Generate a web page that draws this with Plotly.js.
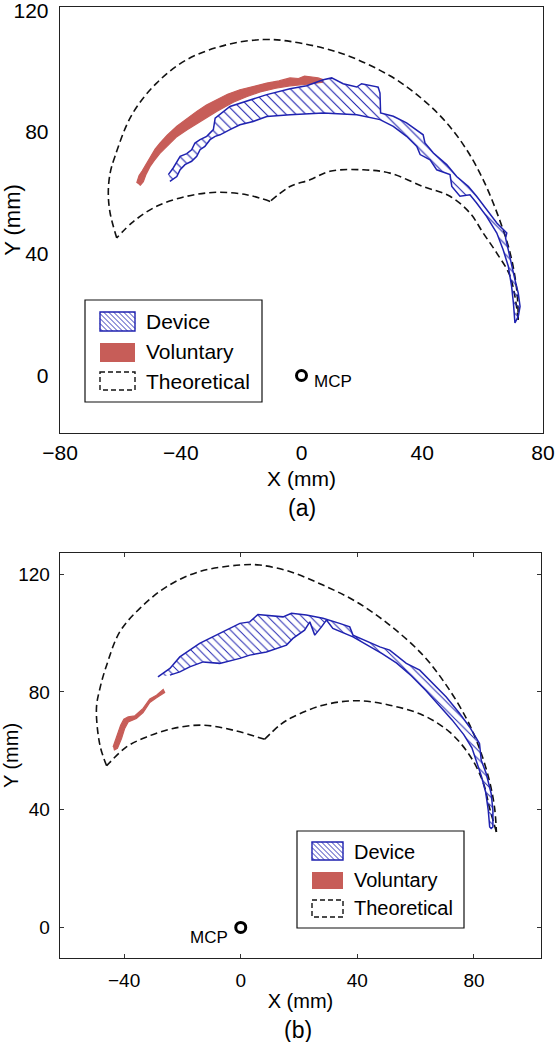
<!DOCTYPE html>
<html>
<head>
<meta charset="utf-8">
<script src="https://cdn.plot.ly/plotly-3.0.1.min.js"></script>
<style>
html,body{margin:0;padding:0;background:#fff;}
#chart{width:556px;height:1042px;}
</style>
</head>
<body>
<div id="chart"></div>
<script>
// ---------- names / ticks ----------
const seriesNames = ['Device', 'Voluntary', 'Theoretical'];
const xTicksA = [-80, -40, 0, 40, 80];
const yTicksA = [0, 40, 80, 120];
const xTicksB = [-40, 0, 40, 80];
const yTicksB = [0, 40, 80, 120];
const mcpX = [0];
const mcpY = [0];

// ---------- panel (a) ----------
const theoA_outer_x = [-61.2,-63.4,-64.0,-63.4,-61.8,-56.2,-48.0,-38.0,-24.8,-12.7,-3.8,12.8,29.3,40.3,48.1,54.7,60.2,65.2,69.1,71.3,71.8];
const theoA_outer_y = [45.2,53.4,60.0,66.5,72.0,85.7,96.1,103.8,108.7,110.4,109.8,106.0,98.5,90.6,83.0,74.2,64.3,52.3,40.3,28.2,18.3];
const theoA_innerR_x = [71.8,69.1,64.7,60.2,55.8,49.2,40.3,29.3,20.5,9.4,2.8,-3.8,-10.4];
const theoA_innerR_y = [18.3,32.6,40.2,46.8,53.4,58.9,62.1,66.5,67.6,67.1,64.3,62.1,57.2];
const theoA_innerL_x = [-10.4,-18.2,-28.1,-38.0,-48.0,-55.7,-61.2];
const theoA_innerL_y = [57.2,59.4,60.2,58.9,55.6,50.6,45.2];

const volA_x = [-54.6,-53.8,-52.8,-51.2,-50.0,-48.5,-46.9,-44.5,-41.3,-38.0,-34.7,-31.5,-28.1,-24.5,-20.4,-16.0,-11.5,-7.5,-3.8,-1.0,1.0,3.5,5.5,7.2,
                7.0,2.8,-3.8,-8.5,-13.7,-18.0,-22.6,-28.1,-31.5,-34.7,-38.0,-41.3,-44.2,-46.9,-48.8,-50.2,-51.5,-52.4,-53.5];
const volA_y = [63.3,65.7,67.2,70.0,72.2,74.4,76.4,79.0,81.9,84.5,86.8,88.9,90.6,92.4,93.9,95.0,96.1,96.8,97.8,97.6,98.4,98.1,97.8,97.2,
                96.4,95.8,95.2,94.4,93.2,91.7,89.8,86.8,84.8,82.8,80.7,78.5,75.8,73.0,70.6,68.6,66.1,63.7,62.4];

const devA_x = [-44.1,-42.5,-40.2,-38.0,-36.4,-35.3,-33.6,-31.4,-29.2,-28.6,-23.7,-17.1,-11.5,-3.8,1.7,7.2,10.0,13.8,18.3,19.9,25.4,26.0,26.2,
                30.4,34.8,40.3,40.9,43.7,48.1,51.4,55.3,58.0,61.3,64.7,68.0,67.6,68.5,69.6,70.7,71.8,72.4,71.8,70.7,
                70.2,69.6,68.5,66.8,64.7,61.3,58.0,55.8,52.5,49.8,49.2,44.8,42.6,39.3,38.2,34.8,30.4,26.0,
                18.3,7.2,-3.8,-11.5,-16.0,-20.4,-23.7,-27.0,
                -28.6,-30.3,-32.0,-33.6,-34.7,-36.4,-38.6,-40.2,-41.3,-43.6];
const devA_y = [66.0,68.2,72.0,72.9,74.2,76.4,77.5,78.6,80.8,84.6,88.4,90.6,92.3,94.2,95.2,97.2,97.8,95.9,94.8,95.9,94.8,92.8,86.3,
                85.2,83.0,79.1,76.4,73.1,69.3,65.4,62.1,58.9,54.5,50.1,46.8,45.2,41.3,35.9,31.5,27.1,22.7,19.4,17.3,
                23.8,29.3,35.9,41.3,46.8,52.3,56.7,59.4,58.9,62.1,66.0,67.6,70.9,72.6,75.3,78.6,81.9,84.1,
                85.7,86.3,85.7,85.1,83.5,82.4,80.8,79.1,
                78.6,77.5,75.3,74.2,72.0,70.4,69.3,67.6,65.4,63.8];

// ---------- panel (b) ----------
const theoB_outer_x = [-46.0,-48.3,-49.5,-48.3,-46.0,-41.5,-34.6,-25.5,-14.1,-0.3,6.5,16.8,28.2,39.7,51.1,62.5,70.5,77.4,81.9,85.4,87.1,87.7];
const theoB_outer_y = [54.9,61.9,74.4,81.2,89.1,100.4,108.4,115.7,120.9,123.1,123.1,120.9,116.3,110.6,102.7,92.5,82.3,71.0,60.8,49.4,40.4,32.4];
const theoB_innerR_x = [87.7,85.4,83.1,78.5,71.6,62.5,51.1,39.7,28.2,17.9,13.4,8.2];
const theoB_innerR_y = [32.4,40.4,49.4,58.5,66.4,72.1,75.5,77.0,75.5,71.5,68.7,63.9];
const theoB_innerL_x = [8.2,-2.6,-12.9,-23.2,-32.3,-39.2,-46.0];
const theoB_innerL_y = [63.9,67.0,68.7,67.6,64.7,61.3,54.9];

const volB_x = [-43.8,-42.6,-41.2,-40.1,-38.6,-36.3,-33.5,-31.2,-28.9,-26.6,
                -26.1,-28.9,-31.2,-33.5,-35.8,-38.6,-39.8,-40.9,-42.3,-43.5];
const volB_y = [61.3,64.7,68.7,70.7,71.5,71.9,74.4,77.6,78.9,80.8,
                79.8,78.0,76.4,73.0,71.0,69.8,67.6,64.2,60.8,60.2];

const devB_x = [-28.4,-24.3,-20.9,-14.1,-7.2,-0.3,3.1,5.9,14.5,17.4,22.5,28.2,33.9,37.4,38.5,45.4,47.7,51.1,56.8,61.4,65.9,70.5,75.1,78.5,81.9,82.5,84.2,85.9,86.5,86.5,85.9,
                85.4,84.9,84.0,82.5,80.8,79.3,76.5,72.5,68.0,63.5,58.5,53.5,48.5,45.4,38.5,31.6,29.4,27.7,25.4,23.7,21.9,17.9,15.7,8.8,3.1,-0.3,-7.2,-12.9,-17.5,-20.9,-24.3];
const devB_y = [85.1,88.0,91.9,96.5,99.9,103.3,103.8,106.3,105.5,106.7,106.1,105.0,103.3,102.1,99.3,96.5,95.3,94.2,89.7,87.4,82.9,78.3,72.7,68.1,62.5,56.8,52.3,45.5,39.8,34.1,33.6,
                34.1,39.8,46.0,51.5,56.5,61.0,65.5,70.5,75.5,80.5,85.5,89.8,93.0,94.8,98.7,101.6,104.4,102.1,99.3,103.8,101.0,98.2,95.9,93.6,92.5,91.4,89.7,90.2,88.5,86.8,85.7];

// ---------- styles ----------
const FONT = 'Liberation Sans, Arial, sans-serif';
const BLUE = '#1f22b0';
const RED = '#c75d58';
const theoLine = {color: '#111', width: 1.6, dash: '7px,4px', shape: 'spline', smoothing: 1};

function theoTrace(x, y, xa, ya) {
  return {x: x, y: y, xaxis: xa, yaxis: ya, type: 'scatter', mode: 'lines', name: seriesNames[2],
          line: theoLine, showlegend: false, hoverinfo: 'skip'};
}
function volTrace(x, y, xa, ya) {
  return {x: x, y: y, xaxis: xa, yaxis: ya, type: 'scatter', mode: 'lines', name: seriesNames[1],
          fill: 'toself', fillcolor: RED, line: {color: RED, width: 1.2}, showlegend: false};
}
function devTrace(x, y, xa, ya, size) {
  return {x: x, y: y, xaxis: xa, yaxis: ya, type: 'scatter', mode: 'lines', name: seriesNames[0],
          fill: 'toself', fillcolor: 'rgba(0,0,0,0)',
          fillpattern: {shape: '\\', fgcolor: BLUE, bgcolor: 'rgba(0,0,0,0)', size: size, solidity: 0.16},
          line: {color: BLUE, width: 1.5}, showlegend: false};
}
function mcpTrace(xa, ya) {
  return {x: mcpX, y: mcpY, xaxis: xa, yaxis: ya, type: 'scatter', mode: 'markers', name: 'MCP',
          marker: {symbol: 'circle-open', size: 10, color: '#000', line: {width: 3, color: '#000'}},
          showlegend: false};
}

const data = [
  theoTrace(theoA_outer_x, theoA_outer_y, 'x', 'y'),
  theoTrace(theoA_innerR_x, theoA_innerR_y, 'x', 'y'),
  theoTrace(theoA_innerL_x, theoA_innerL_y, 'x', 'y'),
  volTrace(volA_x, volA_y, 'x', 'y'),
  devTrace(devA_x, devA_y, 'x', 'y', 7),
  mcpTrace('x', 'y'),
  theoTrace(theoB_outer_x, theoB_outer_y, 'x2', 'y2'),
  theoTrace(theoB_innerR_x, theoB_innerR_y, 'x2', 'y2'),
  theoTrace(theoB_innerL_x, theoB_innerL_y, 'x2', 'y2'),
  volTrace(volB_x, volB_y, 'x2', 'y2'),
  devTrace(devB_x, devB_y, 'x2', 'y2', 6),
  mcpTrace('x2', 'y2')
];

// ---------- page geometry helpers (pixel -> paper) ----------
const ML = 60, MT = 7, MR = 13, MB = 84, W = 556, H = 1042;
const PW = W - ML - MR, PH = H - MT - MB;
const px = v => (v - ML) / PW;
const py = v => (H - MB - v) / PH;

function rect(x0, y0, x1, y1, line, fill) {
  return {type: 'rect', xref: 'paper', yref: 'paper', x0: px(x0), x1: px(x1), y0: py(y0), y1: py(y1),
          line: line, fillcolor: fill || 'rgba(0,0,0,0)', layer: 'above'};
}
function hatchPath(x0, y0, x1, y1, step) {
  const w = x1 - x0, h = y1 - y0;
  let d = '';
  for (let c = -h + step / 2; c < w; c += step) {
    let sx, sy, ex, ey;
    if (c >= 0) { sx = x0 + c; sy = y0; } else { sx = x0; sy = y0 - c; }
    if (c + h <= w) { ex = x0 + c + h; ey = y1; } else { ex = x1; ey = y0 + (w - c); }
    d += 'M' + px(sx) + ',' + py(sy) + 'L' + px(ex) + ',' + py(ey);
  }
  return {type: 'path', xref: 'paper', yref: 'paper', path: d, line: {color: BLUE, width: 0.9}, layer: 'above'};
}
function legendBlock(bx0, by0, bx1, by1, sx0, sx1, rows, textX, textY, fs) {
  const shapes = [rect(bx0, by0, bx1, by1, {color: '#111', width: 1.2}, '#fff')];
  shapes.push(hatchPath(sx0, rows[0][0], sx1, rows[0][1], 5));
  shapes.push(rect(sx0, rows[0][0], sx1, rows[0][1], {color: BLUE, width: 1.4}));
  shapes.push(rect(sx0, rows[1][0], sx1, rows[1][1], {width: 0}, RED));
  shapes.push(rect(sx0, rows[2][0], sx1, rows[2][1], {color: '#111', width: 1.4, dash: '5px,3px'}));
  const anns = seriesNames.map((n, i) => ({
    text: n, xref: 'paper', yref: 'paper', x: px(textX), y: py(textY[i]),
    xanchor: 'left', yanchor: 'middle', showarrow: false, font: {family: FONT, size: fs, color: '#000'}
  }));
  return {shapes, anns};
}
const legA = legendBlock(85, 300, 262, 402, 100, 135, [[312, 331], [343, 362], [372, 390]], 144, [321.7, 351.7, 381.7], 21);
const legB = legendBlock(297, 831, 464, 928, 312, 343, [[842, 860], [872, 889], [900, 917]], 352, [851.7, 880, 908.3], 20);

const axisCommon = {showgrid: false, zeroline: false, showline: true, linecolor: '#222', linewidth: 1.3,
                    color: '#000', ticklabeloverflow: 'allow'};

const layout = {
  width: W, height: H, autosize: false,
  margin: {l: ML, r: MR, t: MT, b: MB, pad: 0},
  paper_bgcolor: '#fff', plot_bgcolor: '#fff',
  showlegend: false,
  font: {family: FONT, color: '#000'},
  xaxis: Object.assign({}, axisCommon, {
    domain: [0, 1], range: [-80, 80], anchor: 'y', mirror: true, ticks: '',
    tickmode: 'array', tickvals: xTicksA, ticklabelstandoff: 0,
    tickfont: {family: FONT, size: 21, color: '#000'},
    title: {text: 'X (mm)', font: {family: FONT, size: 21, color: '#000'}, standoff: 8}
  }),
  yaxis: Object.assign({}, axisCommon, {
    domain: [(H - MB - 433) / PH, 1], range: [-18.9, 121.1], anchor: 'x', mirror: true, ticks: '',
    tickmode: 'array', tickvals: yTicksA, ticklabelstandoff: 6,
    tickfont: {family: FONT, size: 21, color: '#000'},
    title: {text: 'Y (mm)', font: {family: FONT, size: 22, color: '#000'}, standoff: 0}
  }),
  xaxis2: Object.assign({}, axisCommon, {
    domain: [0, (541 - ML) / PW], range: [-62, 103], anchor: 'y2', mirror: 'ticks', ticks: 'inside', ticklen: 4,
    tickcolor: '#333', tickwidth: 1, tickmode: 'array', tickvals: xTicksB, ticklabelstandoff: 5,
    tickfont: {family: FONT, size: 19, color: '#000'},
    title: {text: 'X (mm)', font: {family: FONT, size: 20, color: '#000'}, standoff: 4}
  }),
  yaxis2: Object.assign({}, axisCommon, {
    domain: [0, (H - MB - 553) / PH], range: [-10.4, 127.2], anchor: 'x2', mirror: 'ticks', ticks: 'inside', ticklen: 4,
    tickcolor: '#333', tickwidth: 1, tickmode: 'array', tickvals: yTicksB, ticklabelstandoff: 5,
    tickfont: {family: FONT, size: 19, color: '#000'},
    title: {text: 'Y (mm)', font: {family: FONT, size: 20, color: '#000'}, standoff: 2}
  }),
  shapes: legA.shapes.concat(legB.shapes),
  annotations: legA.anns.concat(legB.anns).concat([
    {text: 'MCP', xref: 'x', yref: 'y', x: 3.4, y: -2.0, xanchor: 'left', yanchor: 'middle', showarrow: false,
     font: {family: FONT, size: 17, color: '#000'}},
    {text: 'MCP', xref: 'x2', yref: 'y2', x: -3.8, y: -3.4, xanchor: 'right', yanchor: 'middle', showarrow: false,
     font: {family: FONT, size: 17, color: '#000'}},
    {text: '(a)', xref: 'paper', yref: 'paper', x: px(301.5), y: py(508), xanchor: 'center', yanchor: 'middle',
     showarrow: false, font: {family: FONT, size: 23, color: '#000'}},
    {text: '(b)', xref: 'paper', yref: 'paper', x: px(298), y: py(1030), xanchor: 'center', yanchor: 'middle',
     showarrow: false, font: {family: FONT, size: 23, color: '#000'}}
  ])
};

Plotly.newPlot('chart', data, layout, {staticPlot: true, displayModeBar: false});
</script>
</body>
</html>
